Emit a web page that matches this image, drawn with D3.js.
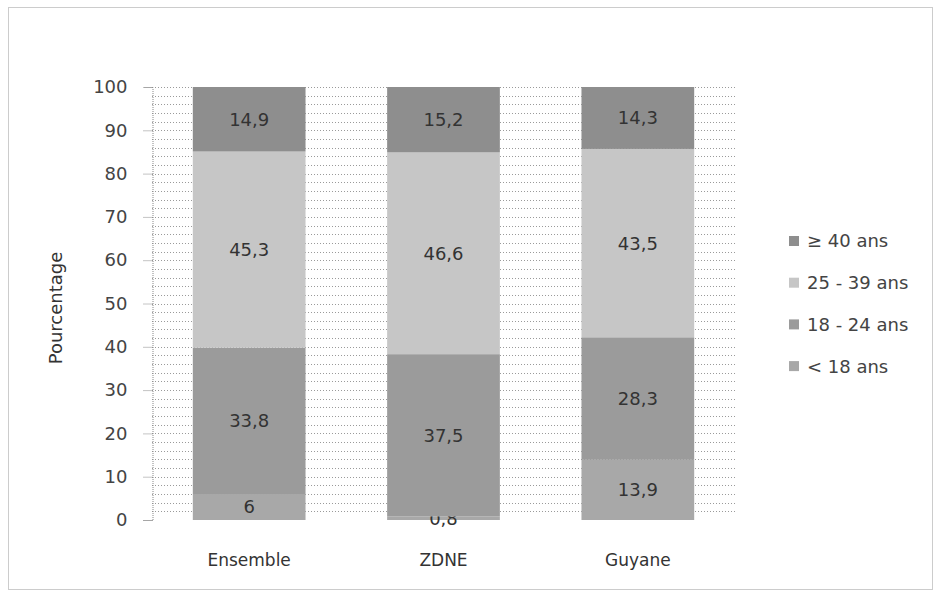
<!DOCTYPE html>
<html>
<head>
<meta charset="utf-8">
<script src="https://cdn.jsdelivr.net/npm/d3@7"></script>
<style>
  body { margin: 0; background: #fff; }
  text { font-family: "DejaVu Sans", sans-serif; }
</style>
</head>
<body>
<svg id="chart" width="935" height="593"></svg>
<script>
// chart data
var categories = ["Ensemble", "ZDNE", "Guyane"];
var groups = ["< 18 ans", "18 - 24 ans", "25 - 39 ans", "\u2265 40 ans"];
var under18 = [6, 0.8, 13.9];
var age18_24 = [33.8, 37.5, 28.3];
var age25_39 = [45.3, 46.6, 43.5];
var over40 = [14.9, 15.2, 14.3];
var labels = [["6", "0,8", "13,9"], ["33,8", "37,5", "28,3"], ["45,3", "46,6", "43,5"], ["14,9", "15,2", "14,3"]];
var yTicks = [0, 10, 20, 30, 40, 50, 60, 70, 80, 90, 100];

var colors = ["#a8a8a8", "#9b9b9b", "#c6c6c6", "#8e8e8e"];

var svg = d3.select("#chart");

// dotted frame around whole chart
svg.append("rect")
  .attr("x", 8.5).attr("y", 7.5)
  .attr("width", 924).attr("height", 582)
  .attr("fill", "none")
  .attr("stroke", "#999")
  .attr("stroke-dasharray", "1,1");

var plotLeft = 152, plotRight = 735, plotTop = 87, plotBottom = 520;

var x = d3.scaleBand().domain(categories).range([plotLeft, plotRight]).paddingInner(0.42).paddingOuter(0.21);
var y = d3.scaleLinear().domain([0, 100]).range([plotBottom, plotTop]);

// minor + major gridlines
var g = svg.append("g");
d3.range(2, 101, 2).forEach(function(v) {
  g.append("line")
    .attr("x1", plotLeft).attr("x2", plotRight)
    .attr("y1", Math.round(y(v)) + 0.5).attr("y2", Math.round(y(v)) + 0.5)
    .attr("stroke", "#9a9a9a")
    .attr("stroke-dasharray", "1,2");
});

// y axis
var yAxis = d3.axisLeft(y).tickValues(yTicks).tickSize(9).tickPadding(16);
var ya = svg.append("g").attr("transform", "translate(" + (plotLeft + 0.5) + ",0)").call(yAxis);
ya.select(".domain").attr("stroke", "#888").attr("stroke-dasharray", "1,1");
ya.selectAll(".tick line").attr("stroke", "#888").attr("stroke-dasharray", "1,1");
ya.selectAll(".tick text").attr("font-size", 18).attr("fill", "#444")
  .style("font-family", "'DejaVu Sans', sans-serif");

svg.append("text")
  .attr("transform", "translate(62,308) rotate(-90)")
  .attr("text-anchor", "middle")
  .attr("font-size", 18)
  .attr("fill", "#333")
  .text("Pourcentage");

// stacked bars
var table = categories.map(function(c, i) {
  return { cat: c, s0: under18[i], s1: age18_24[i], s2: age25_39[i], s3: over40[i] };
});
var stack = d3.stack().keys(["s0", "s1", "s2", "s3"]);
var series = stack(table);

series.forEach(function(s, k) {
  svg.append("g").selectAll("rect")
    .data(s)
    .enter().append("rect")
    .attr("x", function(d) { return x(d.data.cat); })
    .attr("width", x.bandwidth())
    .attr("y", function(d) { return y(Math.min(d[1], 100)); })
    .attr("height", function(d) { return y(d[0]) - y(Math.min(d[1], 100)); })
    .attr("fill", colors[k]);

  svg.append("g").selectAll("text")
    .data(s)
    .enter().append("text")
    .attr("x", function(d) { return x(d.data.cat) + x.bandwidth() / 2; })
    .attr("y", function(d) { return y((d[0] + Math.min(d[1], 100)) / 2); })
    .attr("dy", "0.36em")
    .attr("text-anchor", "middle")
    .attr("font-size", 18)
    .attr("fill", "#333")
    .text(function(d, i) { return labels[k][i]; });
});

// category labels
svg.append("g").selectAll("text")
  .data(categories)
  .enter().append("text")
  .attr("x", function(d) { return x(d) + x.bandwidth() / 2; })
  .attr("y", 566)
  .attr("text-anchor", "middle")
  .attr("font-size", 17)
  .attr("fill", "#333")
  .text(function(d) { return d; });

// legend, top group first
var legendOrder = [3, 2, 1, 0];
legendOrder.forEach(function(k, j) {
  var ly = 241 + j * 41.7;
  svg.append("rect")
    .attr("x", 789).attr("y", ly - 5)
    .attr("width", 10).attr("height", 10)
    .attr("fill", colors[k]);
  svg.append("text")
    .attr("x", 807).attr("y", ly)
    .attr("dy", "0.36em")
    .attr("font-size", 18)
    .attr("fill", "#444")
    .text(groups[k]);
});
</script>
</body>
</html>
